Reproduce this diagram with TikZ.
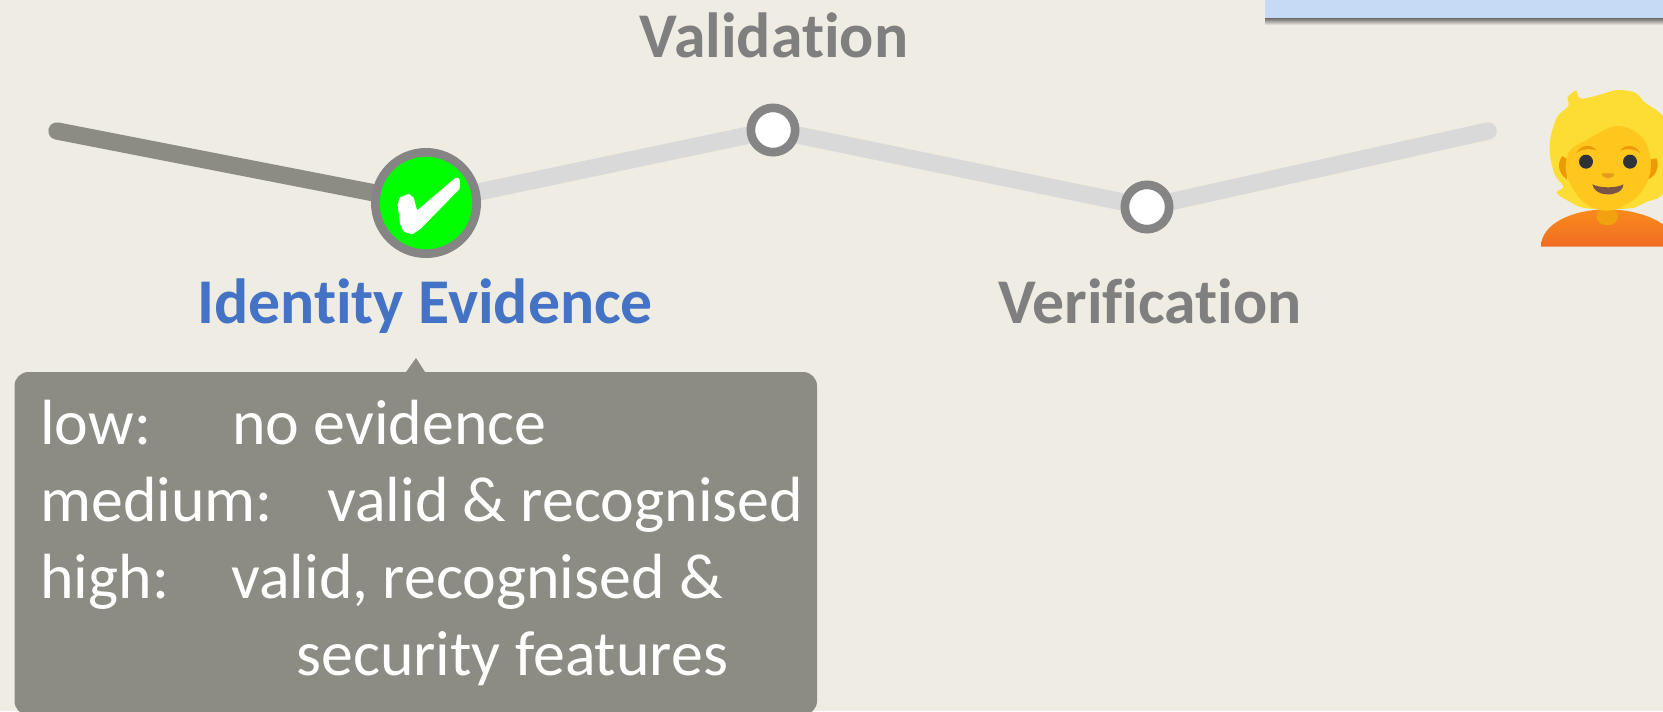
\documentclass[tikz,border=0pt]{standalone}
\usepackage{fontspec}
\setmainfont[Ligatures=CommonOff]{Carlito}
\usetikzlibrary{calc,shadings}
\definecolor{bgc}{HTML}{EEECE3}
\definecolor{darkline}{HTML}{8C8C84}
\definecolor{lightline}{HTML}{D9D9D9}
\definecolor{ringc}{HTML}{858585}
\definecolor{titleg}{HTML}{7F7F7F}
\definecolor{titleb}{HTML}{4472C4}
\definecolor{boxb}{HTML}{C6D9F5}
\definecolor{hairc}{HTML}{FDDD33}
\definecolor{facec}{HTML}{FFC61E}
\definecolor{bodytop}{HTML}{F98B1C}
\definecolor{bodybot}{HTML}{F06C23}
\definecolor{neckc}{HTML}{F3A20F}
\definecolor{browc}{HTML}{EC9A06}
\definecolor{eyec}{HTML}{30323A}
\definecolor{nosec}{HTML}{E59A1C}
\definecolor{mouthc}{HTML}{795548}
\tikzset{
  x=0.75pt,y=-0.75pt,
  stagebig/.style={circle,draw=ringc,fill=green,line width=6.5pt,minimum size=76pt,inner sep=0pt},
  stagesmall/.style={circle,draw=ringc,fill=white,line width=6.5pt,minimum size=33.25pt,inner sep=0pt},
  donelink/.style={draw=darkline,line width=13pt,line cap=round},
  todolink/.style={draw=lightline,line width=13pt,line cap=round},
  titletext/.style={font=\fontsize{47.8}{47.8}\selectfont\bfseries,anchor=base,inner sep=0pt},
  calltext/.style={font=\fontsize{47.9}{47.9}\selectfont,text=white,anchor=base west,inner sep=0pt},
}
\begin{document}
\begin{tikzpicture}
\useasboundingbox (0,0) rectangle (1663,711);
\clip (0,0) rectangle (1663,711);
\fill[bgc] (0,0) rectangle (1663,711);
% blue panel with shadow
\shade[top color=black!55!bgc,bottom color=bgc] (1265,18) rectangle (1663,25);
\fill[boxb] (1265,-5) rectangle (1663,18);
% nodes and links
\coordinate (start) at (57,131);
\coordinate (finish) at (1488,131);
\coordinate (evc) at (426,203);
\coordinate (valc) at (773,130);
\coordinate (verc) at (1147,207);
\draw[todolink] (evc) -- (valc);
\draw[todolink] (valc) -- (verc);
\draw[todolink] (verc) -- (finish);
\draw[donelink] (start) -- (evc);
\node[stagebig] (ev) at (evc) {};
\node[stagesmall] (val) at (valc) {};
\node[stagesmall] (ver) at (verc) {};
% check mark
\begin{scope}[shift={(340,130)},scale=1/3]
\filldraw[white,line width=3pt,line join=round] (179,225) -- (184,207) -- (206,198) -- (216,207) -- (228,252) -- (350,148) -- (354,152) -- (353,174) -- (238,292) -- (215,307) -- (195,300) -- (186,280) -- cycle;
\end{scope}
% titles
\node[titletext,text=titleg] (tval) at (774,57) {Validation};
\node[titletext,text=titleb] (tev) at (425,323) {Identity Evidence};
\node[titletext,text=titleg] (tver) at (1150,323) {Verification};
% callout
\fill[darkline,rounded corners=10.5pt] (14.5,372) rectangle (817,715);
\fill[darkline] (406,372) -- (416,358) -- (425,372) -- cycle;
\node[calltext] (l1a) at (40,444) {low:};
\node[calltext] (l1b) at (232,444) {no evidence};
\node[calltext] (l2a) at (40,521) {medium:};
\node[calltext] (l2b) at (327,521) {valid \& recognised};
\node[calltext] (l3a) at (40,598) {high:};
\node[calltext] (l3b) at (231,598) {valid, recognised \&};
\node[calltext] (l4b) at (296,675) {security features};
% person
\begin{scope}[shift={(1400,0)},scale=1/3]
\shade[top color=bodytop,bottom color=bodybot] (423,740) .. controls (423,670) and (520,628) .. (622,628) .. controls (720,628) and (830,670) .. (830,740) -- cycle;
\fill[neckc] (622,650) ellipse (32 and 26);
\fill[hairc] plot[smooth cycle,tension=0.55] coordinates {(505,318) (503,292) (528,272) (542,296) (600,284) (650,270) (705,278) (735,308) (775,335) (800,370) (815,470) (800,560) (778,592) (740,605) (690,625) (560,625) (500,600) (470,578) (490,560) (465,525) (450,465) (452,410) (472,350)};
\fill[browc] (487,468) .. controls (470,490) and (475,520) .. (500,538) -- (505,480) -- cycle;
\fill[browc] (770,475) .. controls (778,500) and (770,525) .. (745,538) -- (745,480) -- cycle;
\fill[facec] plot[smooth cycle,tension=0.6] coordinates {(510,452) (560,420) (650,378) (725,410) (752,480) (742,545) (700,600) (625,632) (555,610) (510,550) (497,500)};
\fill[browc] (530,458) .. controls (545,432) and (575,432) .. (590,452) .. controls (570,444) and (550,446) .. (530,458) -- cycle;
\fill[browc] (660,452) .. controls (675,432) and (705,432) .. (720,458) .. controls (700,446) and (680,444) .. (660,452) -- cycle;
\fill[eyec] (558,485) circle (21);
\fill[eyec] (690,485) circle (21);
\fill[nosec] (605,520) -- (642,520) .. controls (640,540) and (610,540) .. (605,520) -- cycle;
\fill[mouthc] (577,553) .. controls (600,565) and (650,565) .. (670,553) .. controls (670,575) and (640,585) .. (622,583) .. controls (600,583) and (580,572) .. (577,553) -- cycle;
\end{scope}
\end{tikzpicture}
\end{document}
